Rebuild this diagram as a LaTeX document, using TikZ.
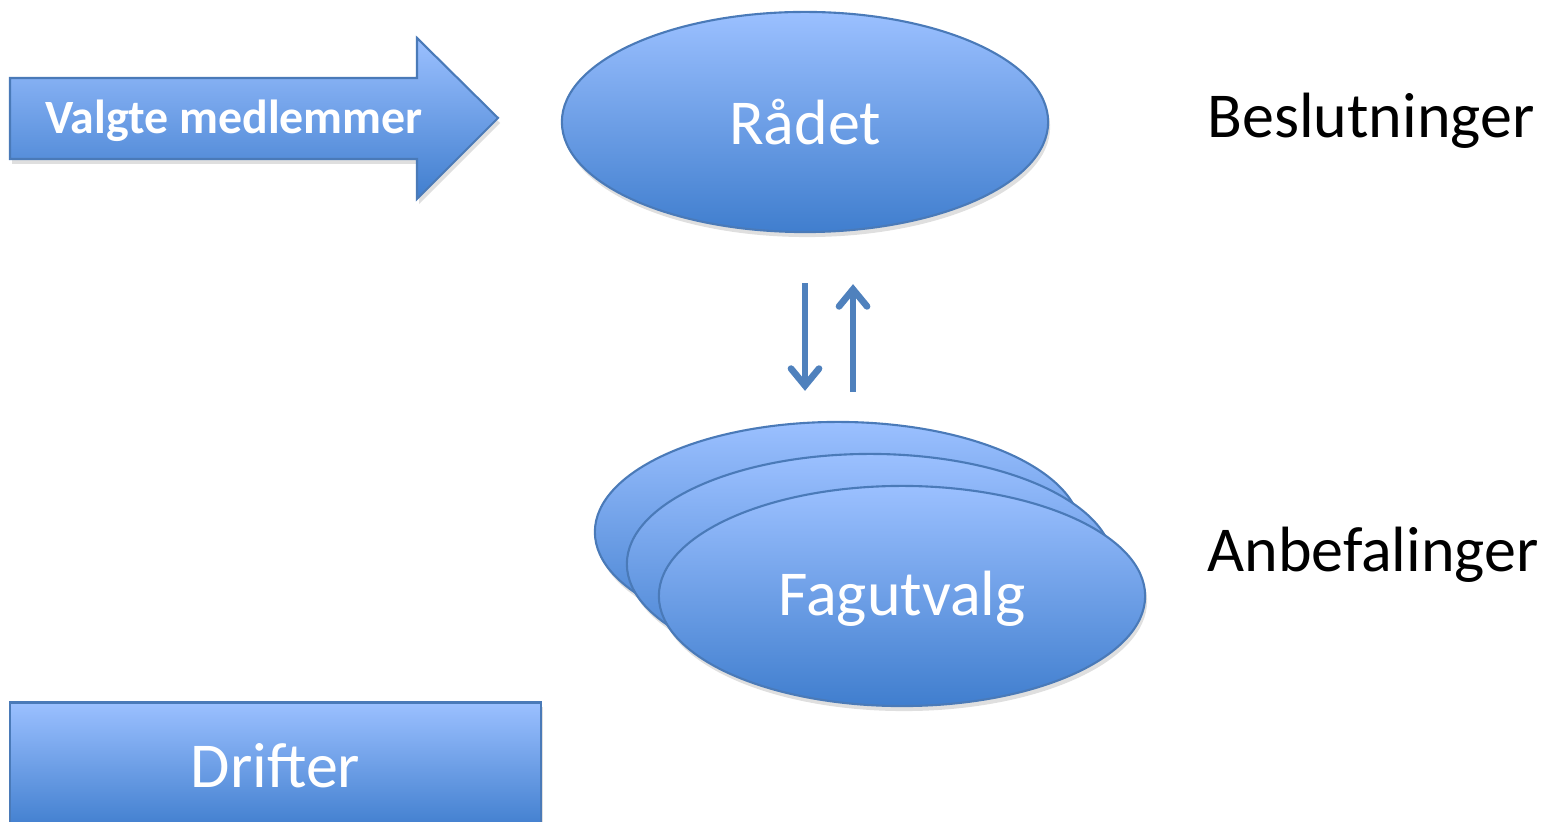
\documentclass[tikz,border=0pt]{standalone}
\usepackage{fontspec}
\setmainfont{Carlito}
\usetikzlibrary{arrows.meta,shadows,shapes.geometric}
\definecolor{blueTop}{RGB}{155,192,255}
\definecolor{blueBot}{RGB}{64,126,206}
\definecolor{blueEdge}{RGB}{74,122,184}
\definecolor{flowBlue}{RGB}{79,129,189}

\begin{document}
\begin{tikzpicture}[x=0.01cm,y=-0.01cm,
	    blob/.style={draw=blueEdge,line width=0.6pt,top color=blueTop,bottom color=blueBot,
	        drop shadow={shadow xshift=0.02cm,shadow yshift=-0.05cm,opacity=0.25}},
	    orgel/.style={blob,ellipse,minimum width=4.86cm,minimum height=2.2cm,inner sep=0pt},
	    whitetxt/.style={text=white,font=\fontsize{18.2}{22}\selectfont},
	    sidetxt/.style={text=black,font=\fontsize{18.2}{22}\selectfont},
	    flow/.style={draw=flowBlue,line width=1.9pt,-{Straight Barb[length=1.7mm,width=2.8mm,line cap=round]}}]
	    \useasboundingbox (0,0) rectangle (1543,822);
	    % valgte medlemmer
	    \draw[blob] (10,78)--(417,78)--(417,38)--(498,118)--(417,199)--(417,159)--(10,159)--cycle;
	    \node[text=white,font=\fontsize{13.6}{16}\selectfont\bfseries] (valgte) at (234,121) {Valgte medlemmer};
	    \node[orgel,whitetxt] (raadet) at (805,122) {Rådet};
	    \node[sidetxt] (beslut) at (1371,121) {Beslutninger};
	    % fagutvalg, stacked
	    \node[orgel] (fagC) at (838,532) {};
	    \node[orgel] (fagB) at (870,564) {};
	    \node[orgel] (fag) at (902,596) {};
	    \node[whitetxt] (fagtxt) at (902,599) {Fagutvalg};
	    \node[sidetxt] (anbef) at (1373,555) {Anbefalinger};
	    \node[blob,rectangle,minimum width=5.31cm,minimum height=1.27cm,whitetxt] (drift) at (275.5,766) {Drifter};
	    \coordinate (upfoot) at ([xshift=0.48cm]raadet.south);
	    \draw[flow,shorten <=0.5cm,shorten >=0.3cm] (raadet.south)--(raadet.south |- fagC.north);
	    \draw[flow,shorten <=0.29cm,shorten >=0.51cm] (upfoot |- fagC.north)--(upfoot);
	\end{tikzpicture}
\end{document}
